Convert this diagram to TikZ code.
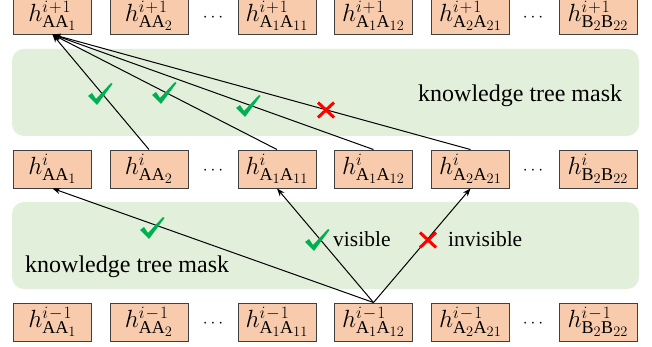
\documentclass[tikz,border=0pt]{standalone}
\usepackage{fontspec}
\setmainfont{Liberation Serif}
\usetikzlibrary{arrows.meta}
\definecolor{boxfill}{RGB}{248,203,173}
\definecolor{boxline}{RGB}{64,64,64}
\definecolor{panel}{RGB}{226,239,218}
\definecolor{ckgreen}{RGB}{0,176,80}
\definecolor{xred}{RGB}{255,0,0}
\newcommand\hlab[2]{$h^{\hbox{\fontsize{16.5}{16.5}\selectfont\medmuskip=1mu$#1$}}_{\hbox{\fontsize{18}{18}\selectfont$#2$}}$}
\newcommand\ssub[1]{_{\hbox{\fontsize{14}{14}\selectfont$#1$}}}
\begin{document}
\begin{tikzpicture}[x=1pt,y=-1pt,
  hbox/.style={draw=boxline,fill=boxfill,line width=0.9pt,minimum width=78pt,minimum height=38pt,inner sep=0pt,font=\fontsize{26}{28}\selectfont},
  topbox/.style={hbox,minimum height=36pt},
  dotsnode/.style={font=\fontsize{18}{20}\selectfont},
  conn/.style={line width=1pt,-{Stealth[length=8pt,width=6pt]}},
  masktxt/.style={font=\fontsize{24}{28}\selectfont,inner sep=0pt},
  vistxt/.style={font=\fontsize{21.5}{24}\selectfont,inner sep=0pt},
  checkmark/.pic={\fill[ckgreen] (-12,2) -- (-8,-1) -- (-4,5) -- (11,-11) -- (12.5,-10) -- (-3,11) -- cycle;},
  crossmark/.pic={\draw[xred,line width=3pt] (-8,-7.5) -- (8,7.5) (-8,7.5) -- (8,-7.5);}
]
\useasboundingbox (0,0) rectangle (652,347);
% panels
\fill[panel,rounded corners=12pt] (12,49) rectangle (639,136);
\fill[panel,rounded corners=12pt] (12,202) rectangle (639,289);
% top row
\node[topbox] (t1) at (52.5,16) {\hlab{i+1}{\mathrm{AA}\ssub{1}}};
\node[topbox] (t2) at (149,16) {\hlab{i+1}{\mathrm{AA}\ssub{2}}};
\node[dotsnode] (td1) at (213,18) {$\cdots$};
\node[topbox] (t3) at (277,16) {\hlab{i+1}{\mathrm{A}\ssub{1}\mathrm{A}\ssub{11}}};
\node[topbox] (t4) at (373.5,16) {\hlab{i+1}{\mathrm{A}\ssub{1}\mathrm{A}\ssub{12}}};
\node[topbox] (t5) at (470.5,16) {\hlab{i+1}{\mathrm{A}\ssub{2}\mathrm{A}\ssub{21}}};
\node[dotsnode] (td2) at (533,18) {$\cdots$};
\node[topbox] (t6) at (598,16) {\hlab{i+1}{\mathrm{B}\ssub{2}\mathrm{B}\ssub{22}}};
% middle row
\node[hbox] (m1) at (52.5,169) {\hlab{i}{\mathrm{AA}\ssub{1}}};
\node[hbox] (m2) at (149,169) {\hlab{i}{\mathrm{AA}\ssub{2}}};
\node[dotsnode] (md1) at (213,171) {$\cdots$};
\node[hbox] (m3) at (277,169) {\hlab{i}{\mathrm{A}\ssub{1}\mathrm{A}\ssub{11}}};
\node[hbox] (m4) at (373.5,169) {\hlab{i}{\mathrm{A}\ssub{1}\mathrm{A}\ssub{12}}};
\node[hbox] (m5) at (470.5,169) {\hlab{i}{\mathrm{A}\ssub{2}\mathrm{A}\ssub{21}}};
\node[dotsnode] (md2) at (533,171) {$\cdots$};
\node[hbox] (m6) at (598,169) {\hlab{i}{\mathrm{B}\ssub{2}\mathrm{B}\ssub{22}}};
% bottom row
\node[hbox] (b1) at (52.5,322) {\hlab{i-1}{\mathrm{AA}\ssub{1}}};
\node[hbox] (b2) at (149,322) {\hlab{i-1}{\mathrm{AA}\ssub{2}}};
\node[dotsnode] (bd1) at (213,324) {$\cdots$};
\node[hbox] (b3) at (277,322) {\hlab{i-1}{\mathrm{A}\ssub{1}\mathrm{A}\ssub{11}}};
\node[hbox] (b4) at (373.5,322) {\hlab{i-1}{\mathrm{A}\ssub{1}\mathrm{A}\ssub{12}}};
\node[hbox] (b5) at (470.5,322) {\hlab{i-1}{\mathrm{A}\ssub{2}\mathrm{A}\ssub{21}}};
\node[dotsnode] (bd2) at (533,324) {$\cdots$};
\node[hbox] (b6) at (598,322) {\hlab{i-1}{\mathrm{B}\ssub{2}\mathrm{B}\ssub{22}}};
% connectors
\draw[conn] (m2.north) -- (t1.south);
\draw[conn] (m3.north) -- (t1.south);
\draw[conn] (m4.north) -- (t1.south);
\draw[conn] (m5.north) -- (t1.south);
\draw[conn] (b4.north) -- (m1.south);
\draw[conn] (b4.north) -- (m3.south);
\draw[conn] (b4.north) -- (m5.south);
% marks
\pic at (100,94) {checkmark};
\pic at (164,93) {checkmark};
\pic at (248,106) {checkmark};
\pic at (326,110) {crossmark};
\pic at (152,228) {checkmark};
\pic at (317,240) {checkmark};
\pic at (428,240) {crossmark};
% texts
\node[masktxt,anchor=base west] (mt1) at (418,102) {knowledge tree mask};
\node[masktxt,anchor=base west] (mt2) at (25,272) {knowledge tree mask};
\node[vistxt,anchor=base west] (vis) at (333,246) {visible};
\node[vistxt,anchor=base west] (invis) at (448,246) {invisible};
\end{tikzpicture}
\end{document}
